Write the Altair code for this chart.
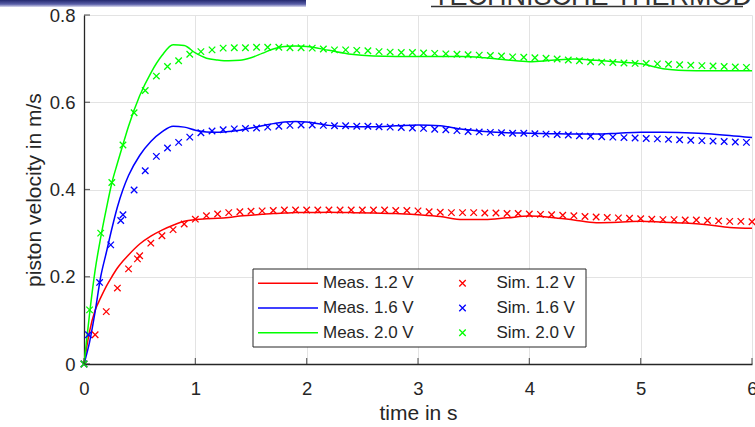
import altair as alt
import pandas as pd

FONT = "Liberation Sans"
INK = "#262626"
CROSS = "M-1,-1L1,1M-1,1L1,-1"

# series identifiers and colours
voltages = ["1.2 V", "1.6 V", "2.0 V"]
colors = ["#ff0000", "#0000ff", "#00ff00"]
meas_labels = ["Meas. 1.2 V", "Meas. 1.6 V", "Meas. 2.0 V"]
sim_labels = ["Sim. 1.2 V", "Sim. 1.6 V", "Sim. 2.0 V"]

# measured piston velocity (m/s) over time (s)
meas_t = [0, 0.05, 0.1, 0.15, 0.2, 0.25, 0.3, 0.35, 0.4, 0.5, 0.6, 0.7, 0.8, 0.9,
          1.0, 1.1, 1.2, 1.3, 1.4, 1.5, 1.6, 1.7, 1.8, 1.9, 2.0, 2.2, 2.4, 2.6, 2.8,
          3.0, 3.2, 3.4, 3.6, 3.8, 4.0, 4.2, 4.4, 4.6, 4.8, 5.0, 5.2, 5.4, 5.6, 5.8, 6.0]
meas_12 = [0, 0.075, 0.123, 0.152, 0.178, 0.2, 0.22, 0.236, 0.25, 0.275, 0.293, 0.307,
           0.318, 0.327, 0.331, 0.333, 0.334, 0.336, 0.339, 0.341, 0.343, 0.345, 0.346,
           0.347, 0.347, 0.348, 0.347, 0.346, 0.345, 0.342, 0.338, 0.331, 0.331, 0.335,
           0.339, 0.336, 0.33, 0.324, 0.325, 0.327, 0.325, 0.323, 0.319, 0.313, 0.311]
meas_16 = [0, 0.05, 0.12, 0.2, 0.255, 0.31, 0.36, 0.4, 0.432, 0.478, 0.51, 0.532,
           0.545, 0.543, 0.536, 0.532, 0.531, 0.533, 0.536, 0.541, 0.546, 0.551, 0.555,
           0.556, 0.555, 0.547, 0.544, 0.544, 0.546, 0.548, 0.546, 0.538, 0.533, 0.53,
           0.529, 0.528, 0.527, 0.527, 0.529, 0.531, 0.531, 0.53, 0.528, 0.524, 0.519]
meas_20 = [0, 0.115, 0.215, 0.29, 0.355, 0.415, 0.46, 0.503, 0.545, 0.615, 0.667, 0.707,
           0.732, 0.73, 0.713, 0.701, 0.697, 0.695, 0.696, 0.702, 0.712, 0.722, 0.728,
           0.729, 0.728, 0.719, 0.71, 0.706, 0.705, 0.705, 0.705, 0.705, 0.702, 0.697,
           0.693, 0.696, 0.699, 0.696, 0.692, 0.688, 0.677, 0.673, 0.672, 0.672, 0.672]

# simulated piston velocity
sim_t_12 = [0, 0.1, 0.2, 0.3, 0.4, 0.48, 0.5, 0.6, 0.7, 0.8, 0.9, 1.0, 1.1, 1.2, 1.3,
            1.4, 1.5, 1.6, 1.7, 1.8, 1.9, 2.0, 2.1, 2.2, 2.3, 2.4, 2.5, 2.6, 2.7, 2.8,
            2.9, 3.0, 3.1, 3.2, 3.3, 3.4, 3.5, 3.6, 3.7, 3.8, 3.9, 4.0, 4.1, 4.2, 4.3,
            4.4, 4.5, 4.6, 4.7, 4.8, 4.9, 5.0, 5.1, 5.2, 5.3, 5.4, 5.5, 5.6, 5.7, 5.8,
            5.9, 6.0]
sim_12 = [0, 0.067, 0.12, 0.174, 0.218, 0.241, 0.248, 0.277, 0.294, 0.308, 0.321, 0.332,
          0.34, 0.344, 0.347, 0.349, 0.35, 0.351, 0.352, 0.353, 0.353, 0.353, 0.353,
          0.353, 0.353, 0.353, 0.353, 0.353, 0.353, 0.352, 0.352, 0.351, 0.349, 0.348,
          0.347, 0.347, 0.347, 0.346, 0.346, 0.345, 0.345, 0.344, 0.343, 0.342, 0.341,
          0.34, 0.338, 0.337, 0.336, 0.335, 0.334, 0.333, 0.332, 0.331, 0.331, 0.33,
          0.33, 0.329, 0.328, 0.327, 0.327, 0.326]

sim_t_16 = [0, 0.04, 0.14, 0.24, 0.33, 0.35, 0.45, 0.55, 0.65, 0.75, 0.85, 0.95, 1.05,
            1.15, 1.25, 1.35, 1.45, 1.55, 1.65, 1.75, 1.85, 1.95, 2.05, 2.15, 2.25, 2.35,
            2.45, 2.55, 2.65, 2.75, 2.85, 2.95, 3.05, 3.15, 3.25, 3.35, 3.45, 3.55, 3.65,
            3.75, 3.85, 3.95, 4.05, 4.15, 4.25, 4.35, 4.45, 4.55, 4.65, 4.75, 4.85, 4.95,
            5.05, 5.15, 5.25, 5.35, 5.45, 5.55, 5.65, 5.75, 5.85, 5.95]
sim_16 = [0, 0.067, 0.187, 0.273, 0.329, 0.342, 0.399, 0.443, 0.476, 0.495, 0.508, 0.52,
          0.53, 0.534, 0.537, 0.539, 0.54, 0.541, 0.543, 0.545, 0.547, 0.548, 0.548,
          0.547, 0.546, 0.546, 0.545, 0.545, 0.544, 0.543, 0.542, 0.541, 0.54, 0.538,
          0.537, 0.535, 0.533, 0.532, 0.531, 0.53, 0.529, 0.529, 0.528, 0.527, 0.526,
          0.525, 0.523, 0.522, 0.521, 0.52, 0.519, 0.518, 0.517, 0.516, 0.515, 0.514,
          0.513, 0.512, 0.511, 0.51, 0.509, 0.508]

sim_t_20 = [0, 0.05, 0.15, 0.25, 0.35, 0.45, 0.55, 0.65, 0.75, 0.85, 0.95, 1.05, 1.15,
            1.25, 1.35, 1.45, 1.55, 1.65, 1.75, 1.85, 1.95, 2.05, 2.15, 2.25, 2.35, 2.45,
            2.55, 2.65, 2.75, 2.85, 2.95, 3.05, 3.15, 3.25, 3.35, 3.45, 3.55, 3.65, 3.75,
            3.85, 3.95, 4.05, 4.15, 4.25, 4.35, 4.45, 4.55, 4.65, 4.75, 4.85, 4.95, 5.05,
            5.15, 5.25, 5.35, 5.45, 5.55, 5.65, 5.75, 5.85, 5.95]
sim_20 = [0, 0.124, 0.3, 0.416, 0.502, 0.576, 0.627, 0.66, 0.682, 0.695, 0.71, 0.716,
          0.72, 0.724, 0.725, 0.725, 0.726, 0.726, 0.726, 0.725, 0.725, 0.724, 0.722,
          0.72, 0.72, 0.719, 0.718, 0.716, 0.715, 0.714, 0.714, 0.713, 0.712, 0.711,
          0.71, 0.709, 0.708, 0.707, 0.706, 0.704, 0.703, 0.702, 0.701, 0.699, 0.697,
          0.695, 0.693, 0.692, 0.691, 0.69, 0.689, 0.689, 0.688, 0.687, 0.686, 0.685,
          0.684, 0.683, 0.682, 0.681, 0.68]

x_ticks = [0, 1, 2, 3, 4, 5, 6]
y_ticks = [0, 0.2, 0.4, 0.6, 0.8]

meas = pd.concat([pd.DataFrame({"t": meas_t, "v": vals, "U": u})
                  for u, vals in zip(voltages, [meas_12, meas_16, meas_20])])
sim = pd.concat([pd.DataFrame({"t": ts, "v": vals, "U": u})
                 for u, ts, vals in zip(voltages, [sim_t_12, sim_t_16, sim_t_20],
                                        [sim_12, sim_16, sim_20])])
legend_df = pd.DataFrame({"meas": meas_labels, "sim": sim_labels, "U": voltages,
                          "row": [0, 1, 2]})

W, H = 668, 349

x_axis = alt.Axis(values=x_ticks, format="d", title="time in s", grid=True,
                  gridColor="#e3e3e3", gridWidth=1, domainColor=INK, domainWidth=1.3,
                  ticks=False, labelPadding=15, labelFontSize=18.5, labelColor=INK,
                  labelFont=FONT, labelFlush=False, titleFont=FONT, titleFontSize=21,
                  titleFontWeight="normal", titleColor=INK, titlePadding=5)
y_axis = alt.Axis(values=y_ticks, format=".1~f", title="piston velocity in m/s",
                  grid=True, gridColor="#e3e3e3", gridWidth=1, domainColor=INK,
                  domainWidth=1.3, ticks=False, labelPadding=9, labelFontSize=18.5,
                  labelColor=INK, labelFont=FONT, labelFlush=False, titleFont=FONT,
                  titleFontSize=21, titleFontWeight="normal", titleColor=INK,
                  titlePadding=5)

x_enc = alt.X("t:Q", scale=alt.Scale(domain=[0, 6], nice=False, zero=False), axis=x_axis)
y_enc = alt.Y("v:Q", scale=alt.Scale(domain=[0, 0.8], nice=False), axis=y_axis)
c_enc = alt.Color("U:N", scale=alt.Scale(domain=voltages, range=colors), legend=None)

lines = alt.Chart(meas).mark_line(strokeWidth=1.5, interpolate="monotone").encode(
    x=x_enc, y=y_enc, color=c_enc, detail="U:N")

points = alt.Chart(sim).mark_point(shape=CROSS, filled=False, size=42, strokeWidth=1.3,
                                   opacity=1).encode(x=x_enc, y=y_enc, color=c_enc)

# inward-pointing axis ticks
xt = alt.Chart(pd.DataFrame({"t": x_ticks})).mark_tick(
    orient="vertical", size=6, thickness=1.2, color=INK).encode(x=x_enc, y=alt.value(H - 3))
yt = alt.Chart(pd.DataFrame({"v": y_ticks})).mark_tick(
    orient="horizontal", size=6, thickness=1.2, color=INK).encode(y=y_enc, x=alt.value(3))

# legend box with two columns (measurement lines, simulation markers)
leg_base = alt.Chart(legend_df).transform_calculate(ly="268.3 + 24.7 * datum.row")
ly = alt.Y("ly:Q", scale=None)
leg_box = alt.Chart(pd.DataFrame({"k": [0]})).mark_rect(
    fill="white", stroke=INK, strokeWidth=1).encode(
    x=alt.value(169), x2=alt.value(502), y=alt.value(254), y2=alt.value(332))
leg_lines = leg_base.mark_rule(strokeWidth=1.5).encode(
    x=alt.value(174), x2=alt.value(234), y=ly, color=c_enc)
leg_meas = leg_base.mark_text(align="left", baseline="middle", font=FONT, fontSize=17,
                              color=INK).encode(x=alt.value(239), y=ly, text="meas:N")
leg_marks = leg_base.mark_point(shape=CROSS, filled=False, size=42, strokeWidth=1.3,
                                opacity=1).encode(x=alt.value(378.5), y=ly, color=c_enc)
leg_sim = leg_base.mark_text(align="left", baseline="middle", font=FONT, fontSize=17,
                             color=INK).encode(x=alt.value(412.5), y=ly, text="sim:N")

# slide header remnants above the plot
banner = alt.Chart(pd.DataFrame({"k": [0]})).mark_rect(
    color=alt.LinearGradient(gradient="linear", x1=0, x2=0, y1=0, y2=1,
                             stops=[alt.GradientStop(color="#23286e", offset=0),
                                    alt.GradientStop(color="#5a5fa8", offset=0.6),
                                    alt.GradientStop(color="#dcdcf0", offset=1)])).encode(
    x=alt.value(-84), x2=alt.value(222), y=alt.value(-15), y2=alt.value(-8))
head_text = alt.Chart(pd.DataFrame({"s": ["TECHNISCHE THERMODYNAMIK"]})).mark_text(
    align="left", baseline="alphabetic", font=FONT, fontSize=27, color="#333333").encode(
    x=alt.value(349), y=alt.value(-10.5), text="s:N")
head_rule = alt.Chart(pd.DataFrame({"k": [0]})).mark_rule(
    color="#333333", strokeWidth=1.5).encode(
    x=alt.value(347), x2=alt.value(659), y=alt.value(-8.5))

chart = alt.layer(
    banner, head_text, head_rule,
    lines, points, xt, yt,
    leg_box, leg_lines, leg_meas, leg_marks, leg_sim,
).properties(
    width=W, height=H,
    autosize=alt.AutoSizeParams(type="none"),
    padding={"left": 84, "top": 15, "right": 3, "bottom": 63},
    background="white",
).configure_view(stroke=None)

chart.save("out.html", embed_options={"renderer": "svg", "actions": False})
